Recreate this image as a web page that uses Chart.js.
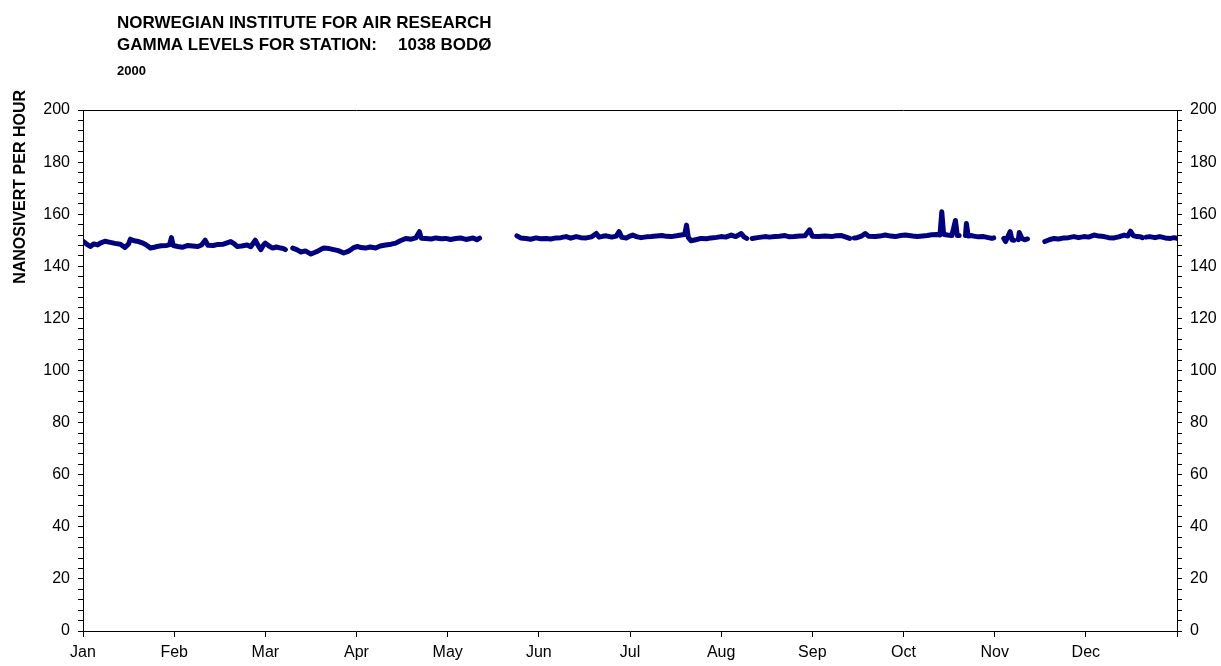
<!DOCTYPE html>
<html>
<head>
<meta charset="utf-8">
<script src="https://cdn.jsdelivr.net/npm/chart.js@4.4.0/dist/chart.umd.min.js"></script>
<style>
html,body{margin:0;padding:0;background:#fff;}
#wrap{position:relative;width:1221px;height:666px;}
</style>
</head>
<body>
<div id="wrap"><canvas id="c" width="1221" height="666"></canvas></div>
<script>
// Title texts
const TITLE_LINE1 = "NORWEGIAN INSTITUTE FOR AIR RESEARCH";
const TITLE_LINE2A = "GAMMA LEVELS FOR STATION:";
const TITLE_LINE2B = "1038 BODØ";
const TITLE_YEAR = "2000";
const Y_TITLE = "NANOSIVERT PER HOUR";

// Month tick labels (x axis, positions 0..12)
const MONTHS = ["Jan","Feb","Mar","Apr","May","Jun","Jul","Aug","Sep","Oct","Nov","Dec",""];

// Position in months (0 = 1 Jan, 12 = 31 Dec end); null value = gap in the record
const POS = [
 0.00,0.04,0.08,0.12,0.16,0.19,0.24,0.30,0.35,0.41,0.46,0.50,0.52,0.56,0.61,0.65,0.68,0.71,0.74,0.78,
 0.81,0.86,0.92,0.95,0.97,0.99,1.04,1.09,1.15,1.20,1.26,1.30,1.34,1.37,1.43,1.48,1.54,1.58,1.62,1.66,
 1.69,1.74,1.80,1.84,1.89,1.92,1.95,1.98,2.00,2.04,2.08,2.12,2.17,2.20,2.22,2.26,
 2.30,2.35,2.39,2.44,2.50,2.54,2.57,2.61,2.64,2.70,2.75,2.80,2.86,2.90,2.94,2.97,3.01,3.05,3.10,3.15,
 3.21,3.26,3.32,3.38,3.43,3.48,3.54,3.60,3.65,3.69,3.71,3.76,3.82,3.87,3.93,3.98,4.03,4.09,4.14,4.20,
 4.24,4.28,4.32,4.35,4.50,
 4.76,4.80,4.86,4.91,4.97,5.02,5.08,5.13,5.19,5.24,5.30,5.35,5.41,5.46,5.52,5.58,5.63,5.66,5.70,5.74,
 5.80,5.85,5.88,5.91,5.96,6.00,6.03,6.07,6.12,6.18,6.23,6.29,6.35,6.40,6.45,6.51,6.56,6.60,6.62,6.64,
 6.67,6.72,6.78,6.84,6.89,6.95,7.00,7.05,7.11,7.16,7.22,7.25,7.28,7.31,
 7.34,7.40,7.48,7.53,7.59,7.64,7.70,7.75,7.80,7.86,7.92,7.97,8.00,8.07,8.14,8.21,8.26,8.32,8.37,8.41,8.44,
 8.46,8.49,8.54,8.58,8.62,8.69,8.74,8.80,8.86,8.91,8.97,9.02,9.06,9.10,9.15,9.21,9.26,9.31,9.37,9.40,
 9.42,9.44,9.48,9.53,9.57,9.59,9.61,9.65,
 9.68,9.69,9.71,9.74,9.77,9.82,9.88,9.93,9.97,9.99,10.05,
 10.10,10.12,10.14,10.17,10.19,10.21,10.24,10.26,10.27,10.30,10.33,10.36,10.45,
 10.55,10.60,10.65,10.70,10.76,10.81,10.87,10.92,10.98,11.03,11.09,11.14,11.20,11.25,11.31,11.36,11.42,11.46,11.49,11.52,
 11.56,11.60,11.62,11.64,11.66,11.70,11.76,11.81,11.87,11.93,11.97,12.00
];

// Gamma level, nSv/h
const GAMMA = [
 149.7,148.5,147.6,148.6,148.2,148.9,149.6,149.2,148.8,148.5,147.2,148.6,150.4,149.8,149.5,149.0,148.5,147.8,147.0,147.3,
 147.6,147.9,148.0,148.3,151.0,148.0,147.6,147.3,148.0,147.8,147.6,148.2,150.0,148.1,148.0,148.4,148.5,149.0,149.5,148.6,
 147.6,147.8,148.2,147.5,150.0,148.0,146.4,148.2,148.9,147.8,147.0,147.4,147.0,146.8,146.4,null,
 147.0,146.3,145.5,145.9,144.7,145.3,145.7,146.5,147.0,146.8,146.4,146.0,145.1,145.6,146.4,147.2,147.6,147.2,147.0,147.4,
 147.0,147.8,148.2,148.5,148.9,149.8,150.7,150.4,150.9,153.3,150.8,150.7,150.5,150.9,150.6,150.7,150.3,150.7,150.9,150.3,
 150.6,150.9,150.2,150.8,null,
 151.7,150.9,150.7,150.4,150.9,150.6,150.7,150.5,150.9,151.0,151.4,150.8,151.4,151.0,150.9,151.3,152.6,151.2,151.5,151.7,
 151.2,151.6,153.3,151.1,150.9,151.6,152.0,151.4,151.0,151.3,151.4,151.6,151.8,151.5,151.4,151.7,152.0,152.2,155.8,151.0,
 149.8,150.2,150.7,150.6,150.9,151.1,151.4,151.2,152.0,151.4,152.6,151.3,150.7,null,
 150.7,151.0,151.4,151.2,151.4,151.5,151.8,151.3,151.4,151.6,151.7,154.0,151.5,151.4,151.6,151.4,151.7,151.8,151.2,150.7,null,
 150.9,151.0,151.6,152.6,151.5,151.4,151.6,152.0,151.6,151.4,151.8,152.0,151.8,151.6,151.4,151.6,151.8,152.1,152.2,152.0,
 160.9,152.3,152.0,151.8,157.6,151.8,151.8,null,
 151.8,156.4,151.6,151.8,151.6,151.3,151.4,151.0,150.7,150.9,null,
 150.7,149.5,151.0,153.3,150.2,150.0,null,150.2,153.0,150.7,150.2,150.5,null,
 149.5,150.2,150.7,150.5,150.9,151.0,151.4,151.0,151.4,151.2,152.0,151.6,151.4,151.0,150.9,151.3,152.0,151.6,153.5,151.8,
 151.4,151.3,151.0,null,151.2,151.4,151.0,151.4,150.9,150.7,151.0,150.7
];

// Y axis range / ticks
const Y_MIN = 0, Y_MAX = 200, Y_MINOR_STEP = 4, Y_LABEL_STEP = 20;

const FONT = "'Liberation Sans', Arial, sans-serif";
const NAVY = "#000080";

const points = POS.map((p, i) => ({x: p, y: GAMMA[i]}));

const decor = {
  id: 'decor',
  afterDraw(chart) {
    const ctx = chart.ctx, a = chart.chartArea;
    ctx.save();
    // top frame line
    ctx.strokeStyle = '#000';
    ctx.lineWidth = 1;
    ctx.beginPath();
    ctx.moveTo(a.left, Math.round(a.top) + 0.5);
    ctx.lineTo(a.right, Math.round(a.top) + 0.5);
    ctx.stroke();
    // titles
    ctx.fillStyle = '#000';
    ctx.textBaseline = 'alphabetic';
    ctx.textAlign = 'left';
    ctx.font = "bold 17px " + FONT;
    ctx.fillText(TITLE_LINE1, 117, 28);
    ctx.fillText(TITLE_LINE2A, 117, 50);
    ctx.fillText(TITLE_LINE2B, 398, 50);
    ctx.font = "bold 13px " + FONT;
    ctx.fillText(TITLE_YEAR, 117, 75);
    // y axis title
    ctx.font = "bold 16px " + FONT;
    ctx.translate(25, 90);
    ctx.rotate(-Math.PI / 2);
    ctx.textAlign = 'right';
    ctx.fillText(Y_TITLE, 0, 0);
    ctx.restore();
  }
};

const yTickCb = v => (v % Y_LABEL_STEP === 0 ? String(v) : '');

new Chart(document.getElementById('c'), {
  type: 'line',
  data: {
    datasets: [{
      data: points,
      borderColor: NAVY,
      backgroundColor: NAVY,
      borderWidth: 5,
      pointRadius: 0,
      tension: 0,
      spanGaps: false,
      borderJoinStyle: 'round',
      borderCapStyle: 'round'
    }]
  },
  options: {
    responsive: false,
    animation: false,
    devicePixelRatio: 1,
    layout: {padding: {top: 110, left: 0, right: 0, bottom: 0}},
    plugins: {legend: {display: false}, tooltip: {enabled: false}, title: {display: false}},
    scales: {
      x: {
        type: 'linear',
        min: 0, max: 12,
        afterFit(s) { s.height = 35; },
        ticks: {
          stepSize: 1, autoSkip: false, maxRotation: 0, minRotation: 0,
          color: '#000', font: {family: FONT, size: 16}, padding: 6,
          callback: v => MONTHS[v] ?? ''
        },
        grid: {drawOnChartArea: false, drawTicks: true, tickLength: 6, color: '#000'},
        border: {display: true, color: '#000', width: 1}
      },
      y: {
        position: 'left',
        min: Y_MIN, max: Y_MAX,
        afterFit(s) { s.width = 83; },
        ticks: {stepSize: Y_MINOR_STEP, autoSkip: false, color: '#000', font: {family: FONT, size: 16}, padding: 8, callback: yTickCb},
        grid: {drawOnChartArea: false, drawTicks: true, tickLength: 5, color: '#000'},
        border: {display: true, color: '#000', width: 1}
      },
      y2: {
        position: 'right',
        min: Y_MIN, max: Y_MAX,
        afterFit(s) { s.width = 44; },
        ticks: {stepSize: Y_MINOR_STEP, autoSkip: false, color: '#000', font: {family: FONT, size: 16}, padding: 8, callback: yTickCb},
        grid: {drawOnChartArea: false, drawTicks: true, tickLength: 5, color: '#000'},
        border: {display: true, color: '#000', width: 1}
      }
    }
  },
  plugins: [decor]
});
</script>
</body>
</html>
